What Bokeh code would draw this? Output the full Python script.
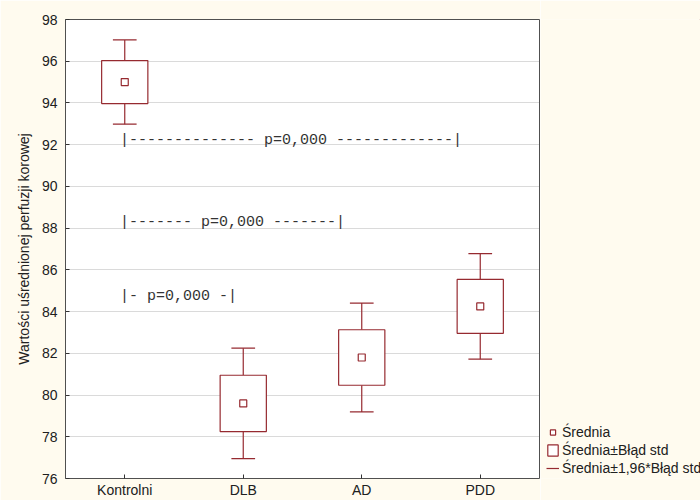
from bokeh.plotting import figure
from bokeh.layouts import row
from bokeh.models import (ColumnDataSource, FactorRange, Range1d, Legend, LegendItem,
                          FixedTicker)
from bokeh.transform import dodge
from bokeh.core.properties import value
from bokeh.embed import file_html
from bokeh.resources import INLINE

# ---- data ----
categories = ["Kontrolni", "DLB", "AD", "PDD"]
means = [95.0, 79.6, 81.8, 84.25]
std_err = [1.03, 1.35, 1.33, 1.29]
ci_factor = 1.96
y_ticks = [76, 78, 80, 82, 84, 86, 88, 90, 92, 94, 96, 98]

comp_texts = ["|--------------  p=0,000 -------------|",
              "|-------  p=0,000 -------|",
              "|- p=0,000 -|"]
comp_start = ["Kontrolni", "Kontrolni", "Kontrolni"]
comp_y = [92.22, 88.27, 84.72]

legend_labels = ["Średnia", "Średnia±Błąd std", "Średnia±1,96*Błąd std"]
y_title = "Wartości uśrednionej perfuzji korowej"

# ---- derived ----
box_lo = [m - s for m, s in zip(means, std_err)]
box_hi = [m + s for m, s in zip(means, std_err)]
wh_lo = [m - ci_factor * s for m, s in zip(means, std_err)]
wh_hi = [m + ci_factor * s for m, s in zip(means, std_err)]

src = ColumnDataSource(dict(cat=categories, mean=means, blo=box_lo, bhi=box_hi,
                            wlo=wh_lo, whi=wh_hi))
txt_src = ColumnDataSource(dict(x=comp_start, y=comp_y, text=comp_texts))

CREAM = "#FFFBEF"
RED = "#962A30"
LW = 1.2
FONT = "Liberation Sans"

p = figure(width=540, height=500,
           x_range=FactorRange(*categories), y_range=Range1d(76, 98),
           output_backend="svg", toolbar_location=None,
           min_border_left=65, min_border_right=1, min_border_top=19,
           min_border_bottom=17,
           background_fill_color="white", border_fill_color=CREAM,
           outline_line_color="#505050")

p.xgrid.visible = False
p.ygrid.ticker = FixedTicker(ticks=y_ticks)
p.ygrid.grid_line_color = "#b4b4b4"
p.ygrid.grid_line_dash = "1 1"

# whisker stems and caps
p.segment(x0="cat", y0="bhi", x1="cat", y1="whi", source=src, line_color=RED, line_width=LW)
p.segment(x0="cat", y0="blo", x1="cat", y1="wlo", source=src, line_color=RED, line_width=LW)
p.segment(x0=dodge("cat", -0.1, range=p.x_range), x1=dodge("cat", 0.1, range=p.x_range),
          y0="whi", y1="whi", source=src, line_color=RED, line_width=LW)
p.segment(x0=dodge("cat", -0.1, range=p.x_range), x1=dodge("cat", 0.1, range=p.x_range),
          y0="wlo", y1="wlo", source=src, line_color=RED, line_width=LW)
# boxes
p.vbar(x="cat", width=0.39, top="bhi", bottom="blo", source=src,
       fill_color="white", line_color=RED, line_width=LW)
# means
p.scatter(x="cat", y="mean", source=src, marker="square", size=7,
          fill_color="white", line_color=RED, line_width=LW)

# comparison annotations
p.text(x=dodge("x", -0.04, range=p.x_range), y="y", text="text", source=txt_src,
       text_font=value("Liberation Mono"), text_font_size="15px",
       text_baseline="middle", text_align="left", text_color="#333333")

# axes
for ax in (p.xaxis[0], p.yaxis[0]):
    ax.axis_line_color = None
    ax.major_tick_in = 4
    ax.major_tick_out = 0
    ax.minor_tick_line_color = None
    ax.major_tick_line_color = "#333333"
    ax.major_label_text_font = FONT
    ax.major_label_text_font_size = "14px"
    ax.major_label_text_color = "#202020"
p.yaxis.ticker = FixedTicker(ticks=y_ticks)
p.yaxis.major_label_standoff = 8
p.xaxis.major_label_standoff = 3
p.yaxis.axis_label = y_title
p.yaxis.axis_label_text_font = FONT
p.yaxis.axis_label_text_font_size = "14px"
p.yaxis.axis_label_text_font_style = "normal"
p.yaxis.axis_label_text_color = "#202020"
p.yaxis.axis_label_standoff = 7

# ---- legend panel (separate figure to the right, no axes) ----
lg = figure(width=160, height=500, x_range=Range1d(0, 1), y_range=Range1d(0, 1),
            x_axis_type=None, y_axis_type=None,
            output_backend="svg", toolbar_location=None,
            min_border=0, outline_line_color=None,
            background_fill_color=CREAM, border_fill_color=CREAM)
lg.grid.visible = False
# legend icon renderers: the series' own values lie outside this panel's 0..1 range,
# so only their legend icons are shown
r_mean = lg.scatter(x="mean", y="mean", source=src, marker="square", size=7,
                    fill_color="white", line_color=RED, line_width=LW)
r_box = lg.vbar(x="mean", width=0.1, top="bhi", bottom="blo", source=src,
                fill_color="white", line_color=RED, line_width=LW)
r_wh = lg.vspan(x="mean", source=src, line_color=RED, line_width=LW)
legend = Legend(items=[LegendItem(label=legend_labels[0], renderers=[r_mean]),
                       LegendItem(label=legend_labels[1], renderers=[r_box]),
                       LegendItem(label=legend_labels[2], renderers=[r_wh])],
                location=(6, 2), glyph_width=13, glyph_height=14, label_height=14,
                spacing=2, label_standoff=3, padding=0, margin=0,
                border_line_color=None, background_fill_alpha=0,
                label_text_font=FONT, label_text_font_size="14px",
                label_text_color="#202020")
lg.add_layout(legend, "center")

layout = row(p, lg, spacing=0)
open("out.html", "w").write(file_html(layout, INLINE))
